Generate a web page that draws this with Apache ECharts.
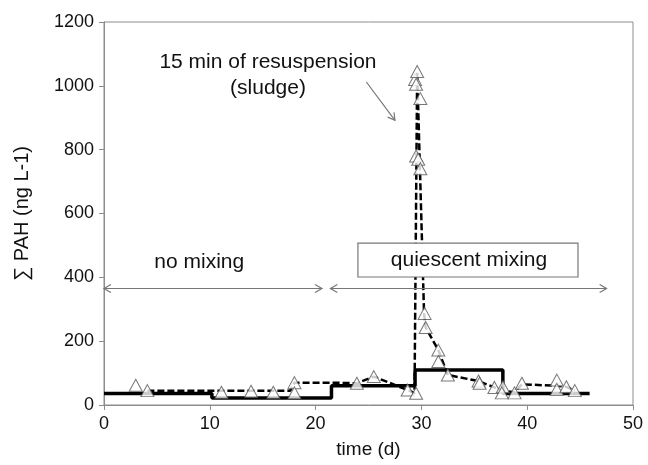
<!DOCTYPE html>
<html>
<head>
<meta charset="utf-8">
<script src="https://cdn.jsdelivr.net/npm/echarts@6/dist/echarts.min.js"></script>
<style>
  html, body { margin: 0; padding: 0; background: #fff; }
  #chart { width: 648px; height: 465px; }
</style>
</head>
<body>
<div id="chart"></div>
<script>
// Measured concentrations (time in days, sum PAH in ng/L)
const sampleDays = [3.0, 4.1, 11.1, 13.9, 16.0, 18.0, 18.0, 23.9, 25.5, 28.7, 29.5,
  29.4, 29.6, 29.5, 29.9, 29.5, 29.7, 29.9, 30.3, 30.4, 31.6, 31.6, 32.5,
  35.4, 35.5, 36.9, 37.7, 37.6, 38.8, 39.5, 42.8, 42.8, 43.7, 44.5];
const sampleValues = [62, 45, 40, 43, 40, 70, 38, 68, 89, 47, 37,
  1020, 1045, 1005, 960, 780, 770, 740, 287, 243, 172, 136, 94,
  75, 68, 55, 57, 38, 38, 68, 78, 49, 57, 45];

// Trend through the measurements (dashed)
const trendDays = [4.1, 11.1, 13.9, 16.0, 17.6, 18.0, 21.5, 23.9, 25.5, 28.7, 29.35,
  29.6, 30.25, 30.4, 31.6, 32.5, 35.4, 36.9, 37.7, 38.8, 39.5, 42.8, 43.7, 44.5];
const trendValues = [45, 45, 45, 45, 45, 70, 70, 68, 89, 47, 37,
  1045, 287, 243, 172, 94, 75, 55, 45, 40, 65, 60, 57, 45];

// Step profile (solid)
const stepDays = [0, 10.2, 10.2, 21.5, 21.5, 29.4, 29.4, 37.7, 37.7, 45.9];
const stepValues = [36, 36, 22, 22, 60, 60, 110, 110, 36, 36];

// Axis ticks
const xTicks = [0, 10, 20, 30, 40, 50];
const yTicks = [0, 200, 400, 600, 800, 1000, 1200];

const zip = (a, b) => a.map((v, i) => [v, b[i]]);
const FONT = '"Liberation Sans", Arial, sans-serif';
const AXIS_GREY = '#8c8c8c';

const chart = echarts.init(document.getElementById('chart'), null, { renderer: 'canvas' });

chart.setOption({
  animation: false,
  backgroundColor: '#fff',
  grid: { left: 104, right: 15, top: 22, bottom: 60, show: true, borderColor: AXIS_GREY, borderWidth: 1 },
  xAxis: {
    type: 'value', min: xTicks[0], max: xTicks[xTicks.length - 1], interval: 10,
    name: 'time (d)', nameLocation: 'middle', nameGap: 35,
    nameTextStyle: { fontFamily: FONT, fontSize: 19, color: '#111' },
    axisLine: { lineStyle: { color: AXIS_GREY } },
    axisTick: { show: true, length: 5, lineStyle: { color: AXIS_GREY } },
    axisLabel: { fontFamily: FONT, fontSize: 18, color: '#111', margin: 10, formatter: v => String(v) },
    splitLine: { show: false }
  },
  yAxis: {
    type: 'value', min: yTicks[0], max: yTicks[yTicks.length - 1], interval: 200,
    name: '∑ PAH (ng L-1)', nameLocation: 'middle', nameGap: 72, nameRotate: 90,
    nameTextStyle: { fontFamily: FONT, fontSize: 20, color: '#111' },
    axisLine: { show: true, lineStyle: { color: AXIS_GREY } },
    axisTick: { show: true, length: 5, lineStyle: { color: AXIS_GREY } },
    axisLabel: { fontFamily: FONT, fontSize: 18, color: '#111', margin: 10, formatter: v => String(v) },
    splitLine: { show: false }
  },
  series: [
    {
      name: 'step', type: 'line', data: zip(stepDays, stepValues),
      showSymbol: false, symbol: 'none',
      lineStyle: { color: '#000', width: 3.5 }, z: 2
    },
    {
      name: 'trend', type: 'line', data: zip(trendDays, trendValues),
      showSymbol: false, symbol: 'none',
      lineStyle: { color: '#000', width: 2.5, type: [7, 3] }, z: 3
    },
    {
      name: 'samples', type: 'scatter', data: zip(sampleDays, sampleValues),
      symbol: 'triangle', symbolSize: [13, 12],
      itemStyle: { color: '#fff', borderColor: '#555', borderWidth: 1 }, z: 4
    }
  ]
});

// Annotations placed in data coordinates
function px(x, y) { return chart.convertToPixel({ gridIndex: 0 }, [x, y]); }

function openHead(tip, from, len) {
  const dx = tip[0] - from[0], dy = tip[1] - from[1];
  const d = Math.hypot(dx, dy), ux = dx / d, uy = dy / d;
  const a = Math.PI / 6;
  const p1 = [tip[0] - len * (ux * Math.cos(a) - uy * Math.sin(a)), tip[1] - len * (uy * Math.cos(a) + ux * Math.sin(a))];
  const p2 = [tip[0] - len * (ux * Math.cos(a) + uy * Math.sin(a)), tip[1] - len * (uy * Math.cos(a) - ux * Math.sin(a))];
  return { type: 'polyline', shape: { points: [p1, tip, p2] }, style: { stroke: '#777', lineWidth: 1.2, fill: null }, z: 10 };
}

function doubleArrow(x0, x1, y) {
  const a = px(x0, y), b = px(x1, y);
  return [
    { type: 'line', shape: { x1: a[0], y1: a[1], x2: b[0], y2: b[1] }, style: { stroke: '#777', lineWidth: 1.2 }, z: 10 },
    openHead(a, b, 8), openHead(b, a, 8)
  ];
}

const textStyle = (t, p) => ({
  type: 'text', x: p[0], y: p[1],
  style: { text: t, fontFamily: FONT, fontSize: 21, fill: '#111', align: 'center', verticalAlign: 'middle' }, z: 11
});

const boxTL = px(24.0, 507), boxBR = px(44.8, 401);
const arrowFrom = px(24.8, 1012), arrowTo = px(27.5, 892);

chart.setOption({
  graphic: [
    textStyle('15 min of resuspension', px(15.5, 1074)),
    textStyle('(sludge)', px(15.5, 992)),
    { type: 'line', shape: { x1: arrowFrom[0], y1: arrowFrom[1], x2: arrowTo[0], y2: arrowTo[1] }, style: { stroke: '#777', lineWidth: 1.2 }, z: 10 },
    openHead(arrowTo, arrowFrom, 8),
    ...doubleArrow(0, 20.6, 365),
    ...doubleArrow(21.4, 47.5, 365),
    textStyle('no mixing', px(9.0, 448)),
    { type: 'rect', shape: { x: boxTL[0], y: boxTL[1], width: boxBR[0] - boxTL[0], height: boxBR[1] - boxTL[1] },
      style: { fill: '#fff', stroke: '#777', lineWidth: 1.2 }, z: 10 },
    textStyle('quiescent mixing', px(34.5, 454))
  ]
});
</script>
</body>
</html>
